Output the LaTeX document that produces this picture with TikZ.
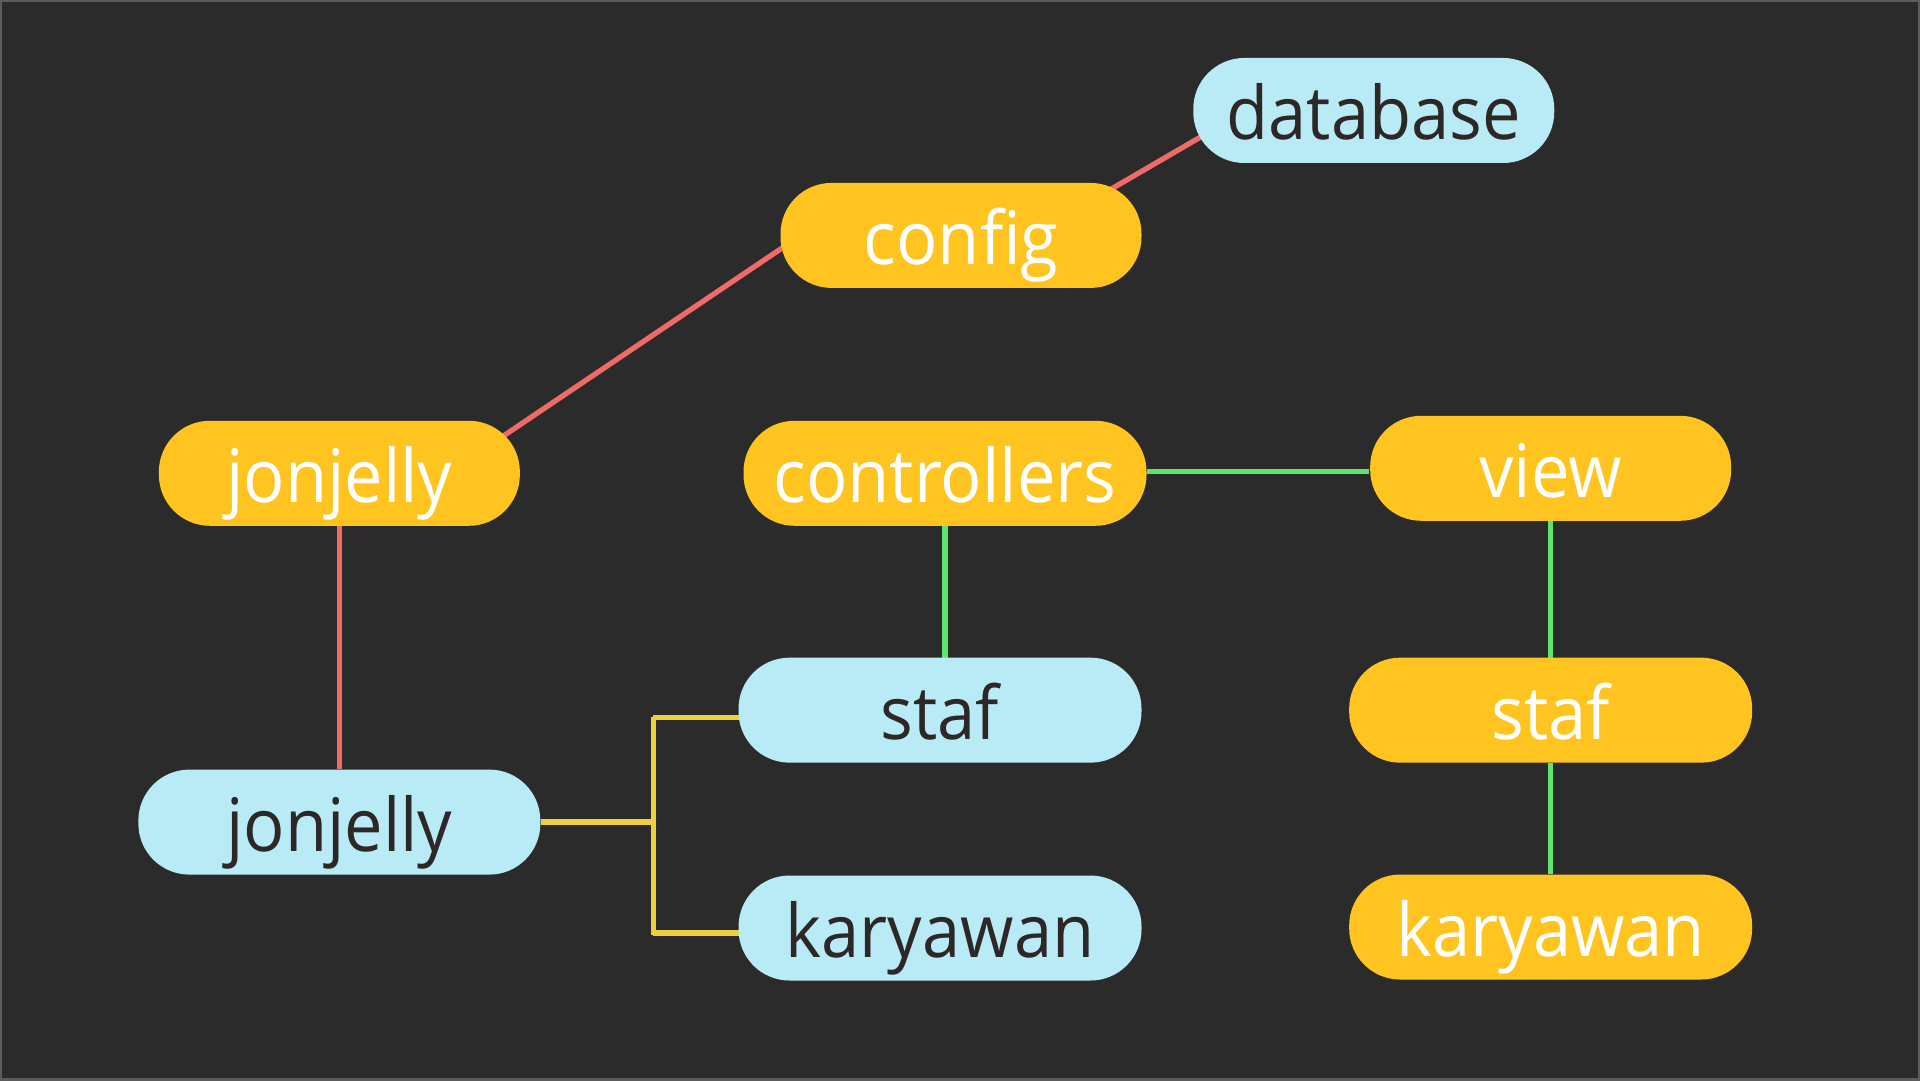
\documentclass[tikz,border=0pt]{standalone}
\usepackage{fontspec}
\setmainfont{Open Sans}[FakeStretch=0.93]
\usetikzlibrary{backgrounds}
\definecolor{bgdark}{HTML}{2B2B2B}
\definecolor{frame}{HTML}{5C5C5C}
\definecolor{amber}{HTML}{FFC41F}
\definecolor{skyblue}{HTML}{B8EBF5}
\definecolor{darktext}{HTML}{2E2727}
\definecolor{redline}{HTML}{F06A6A}
\definecolor{greenline}{HTML}{5EE36C}
\definecolor{yellowline}{HTML}{EDD040}

\begin{document}
\begin{tikzpicture}[
    x=0.01cm, y=-0.01cm,
    topic/.style={rectangle, rounded corners=0.51cm, minimum height=1.05cm, inner sep=0pt,
                  text height=0.75cm, text depth=0.16cm,
                  font=\fontsize{21pt}{21pt}\selectfont},
    warm/.style={topic, fill=amber, text=white},
    cool/.style={topic, fill=skyblue, text=darktext},
    link/.style={line width=1.5pt},
    reach/.style={shorten <=-0.2cm, shorten >=-0.2cm}
]

% --- Left branch ---
\node[warm, minimum width=3.61cm] (jj1) at (339,473) {jonjelly};
\node[cool, minimum width=4.02cm] (jj2) at (339,822) {jonjelly};

% --- Top branch ---
\node[warm, minimum width=3.61cm] (cfg) at (961,235) {config};
\node[cool, minimum width=3.61cm] (db) at (1374,110) {database};

% --- Middle column ---
\node[warm, minimum width=4.03cm] (ctl) at (945,473) {controllers};
\node[cool, minimum width=4.03cm] (staf1) at (940,710) {staf};
\node[cool, minimum width=4.03cm] (kary1) at (940,928) {karyawan};

% --- Right column ---
\node[warm, minimum width=3.61cm] (view) at (1551,468) {view};
\node[warm, minimum width=4.03cm] (staf2) at (1551,710) {staf};
\node[warm, minimum width=4.03cm] (kary2) at (1551,927) {karyawan};

% --- Elbow point for the yellow fork ---
\coordinate (fork) at (653,822);

\begin{scope}[on background layer]
% --- Background and frame ---
\fill[bgdark] (0,0) rectangle (1920,1080);
\draw[frame, line width=0.6pt] (0.5,0.5) rectangle (1919.5,1079.5);

% --- Red links ---
\draw[link, redline, reach] ([xshift=1.65cm, yshift=0.38cm]jj1.center)
    -- ([xshift=-1.81cm, yshift=-0.14cm]cfg.center);
\draw[link, redline, reach] ([xshift=1.53cm, yshift=0.48cm]cfg.center)
    -- ([xshift=-1.74cm, yshift=-0.27cm]db.center);
\draw[link, redline] (jj1) -- (jj2);

% --- Green links ---
\draw[link, greenline] (ctl.east) ++(0,-2) -- (view.west |- 0,471);
\draw[link, greenline] (ctl) -- (ctl |- staf1);
\draw[link, greenline] (view) -- (view |- staf2);
\draw[link, greenline] (staf2) -- (kary2);

% --- Yellow fork ---
\draw[link, yellowline] (jj2) -- (fork);
\draw[link, yellowline] (fork |- 0,717) -- (fork |- 0,935);
\draw[link, yellowline] (fork |- 0,717) -- (staf1 |- 0,717);
\draw[link, yellowline] (fork |- 0,933) -- (kary1 |- 0,933);
\end{scope}

\end{tikzpicture}
\end{document}
